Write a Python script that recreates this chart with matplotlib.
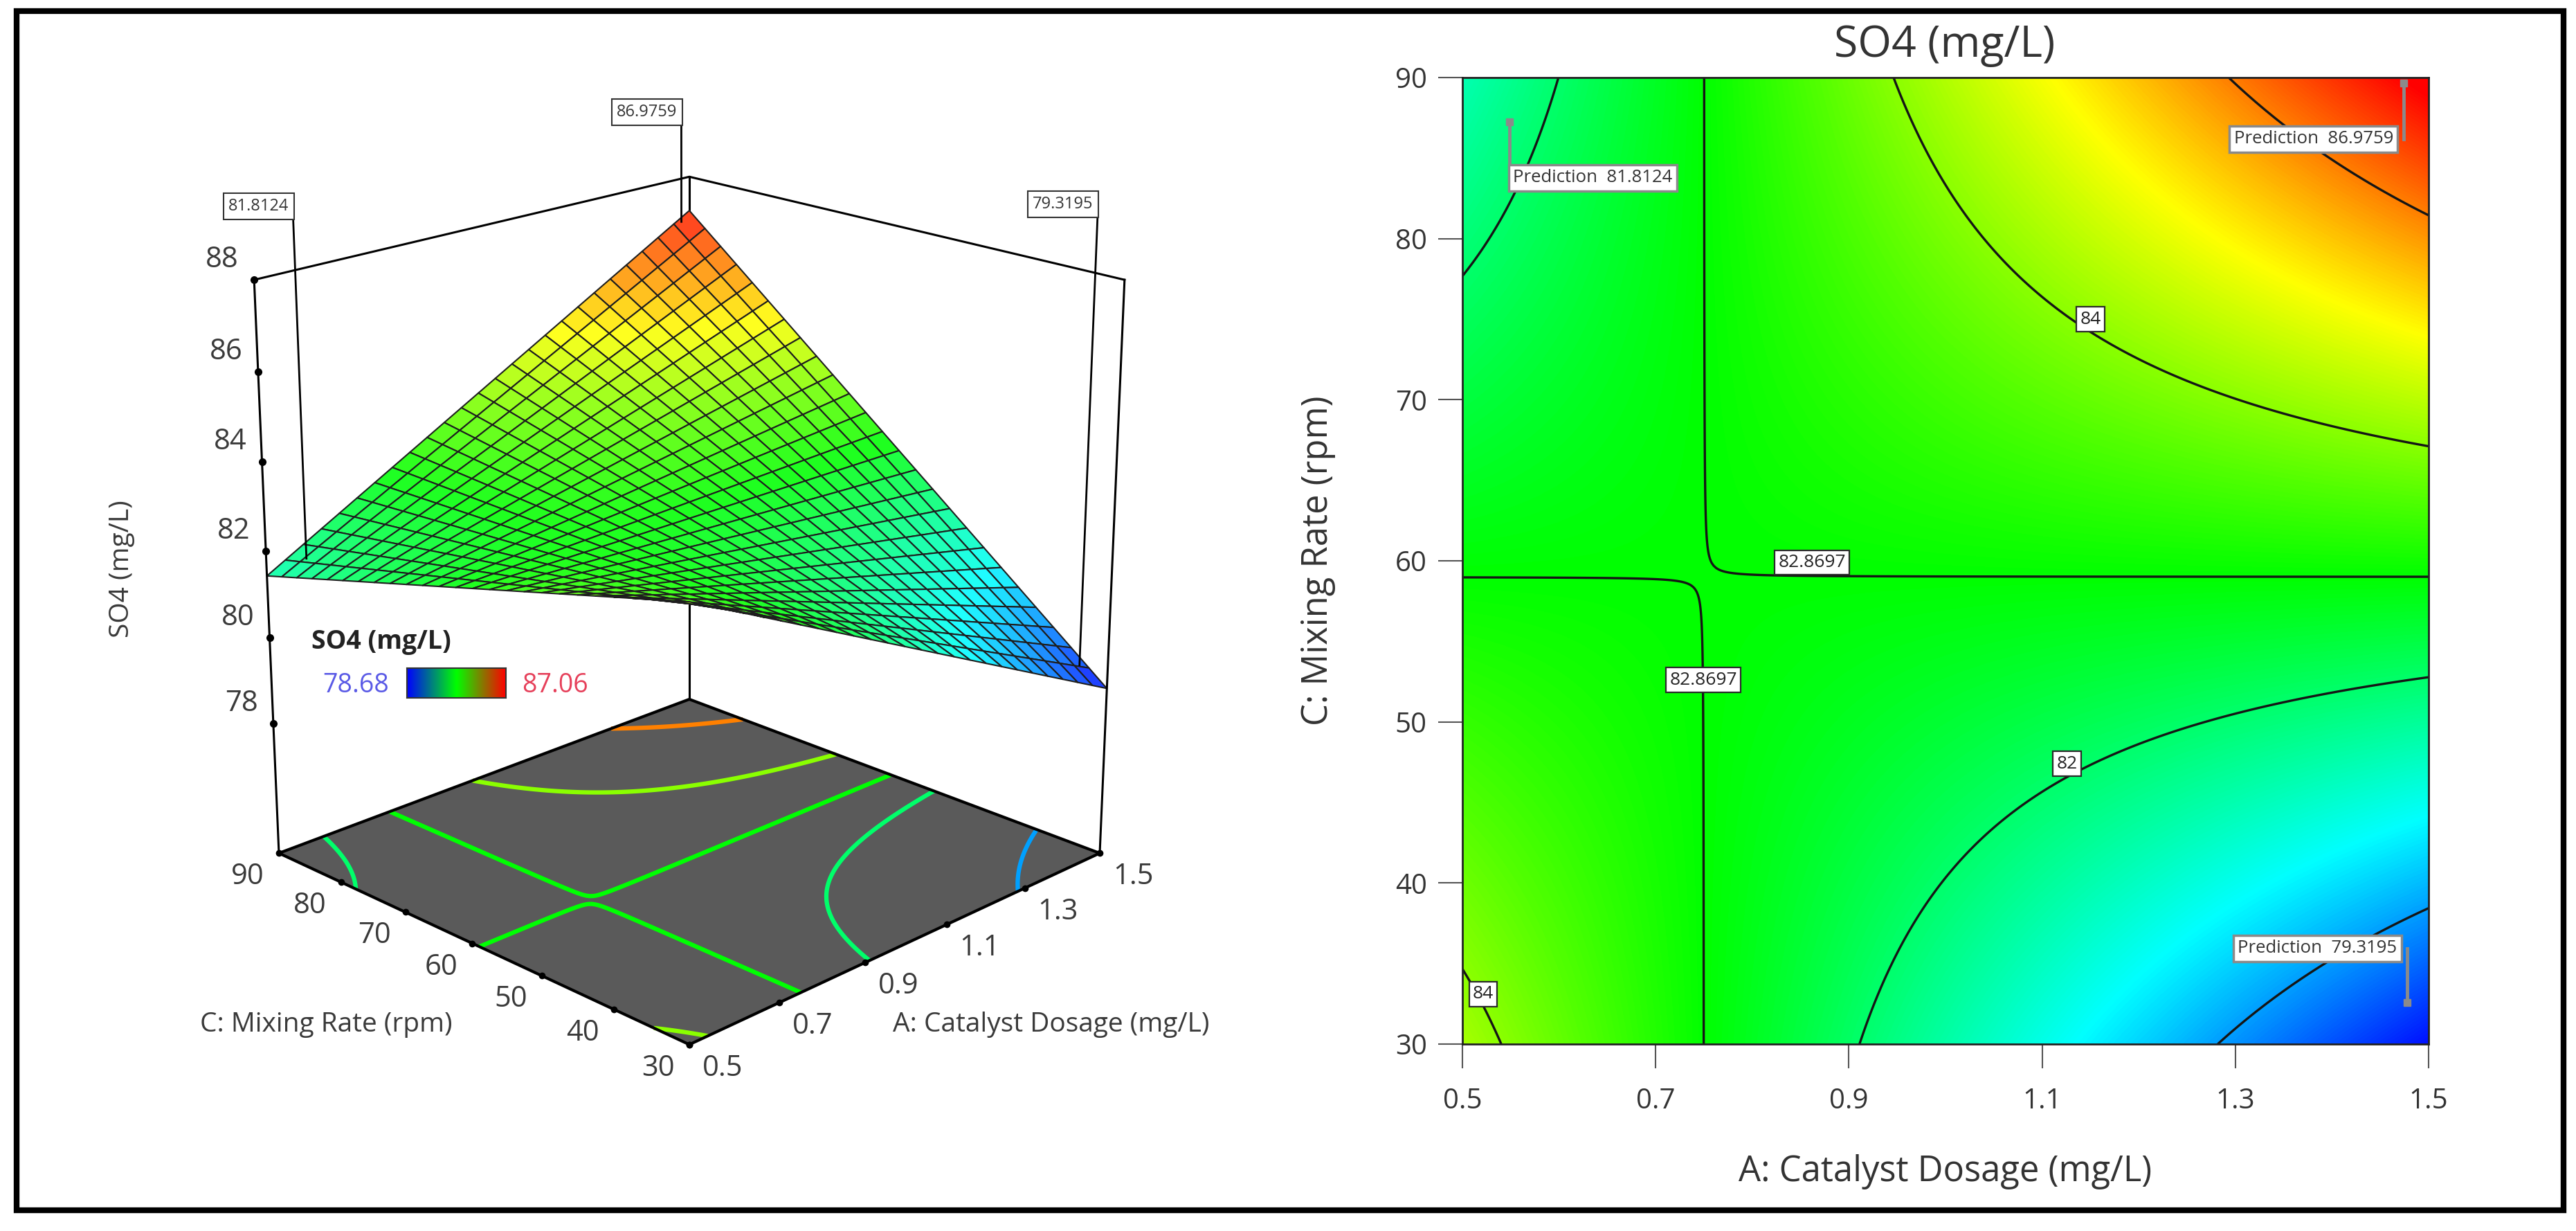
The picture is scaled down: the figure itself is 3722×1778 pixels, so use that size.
import numpy as np
import matplotlib
matplotlib.use("Agg")
import matplotlib.pyplot as plt
from matplotlib.colors import LinearSegmentedColormap, Normalize
from matplotlib.patches import Rectangle
from mpl_toolkits.mplot3d import proj3d

plt.rcParams['font.family'] = ['Open Sans', 'DejaVu Sans']

W, H = 3722, 1778

# fitted response: SO4 = s0 + k (A - A0)(C - C0)
saddle_A = 0.75
saddle_C = 59.0
saddle_value = 82.8684
interaction = 0.186

A_range = [0.5, 1.5]
C_range = [30, 90]
A_ticks = [0.5, 0.7, 0.9, 1.1, 1.3, 1.5]
C_ticks = [30, 40, 50, 60, 70, 80, 90]
z_ticks = [78, 80, 82, 84, 86, 88]
z_floor = 74.9
flag_top = 89.3

color_min, color_max = 78.68, 87.06
contour_levels = [80, 82, 82.8697, 84, 86]

# contour line labels (text, A, C)
line_label_text = ['84', '82.8697', '82.8697', '82', '84']
line_label_A = [1.150, 0.862, 0.7495, 1.126, 0.5215]
line_label_C = [75.0, 59.9, 52.6, 47.4, 33.1]

# prediction flags
pred_values = ['81.8124', '86.9759', '79.3195']
pred_A = [0.549, 1.474, 1.478]
pred_C = [87.25, 89.66, 32.6]
pred_box_A = [0.635, 1.381, 1.385]
pred_box_C = [83.77, 86.18, 35.94]


def so4(a, c):
    return saddle_value + interaction * (a - saddle_A) * (c - saddle_C)


rainbow = LinearSegmentedColormap.from_list(
    'de', ['#0000ff', '#00ffff', '#00ff00', '#ffff00', '#ff0000'])
legend_cmap = LinearSegmentedColormap.from_list('de3', ['#0000ff', '#00ff00', '#ff0000'])
norm = Normalize(color_min, color_max)

fig = plt.figure(figsize=(W / 100, H / 100), dpi=100)

# ---------------- 3D surface (left) ----------------
ax = fig.add_axes([0.0, 0.05, 0.5, 0.9], projection='3d', computed_zorder=False)
ax.patch.set_visible(False)
ax.set_proj_type('persp', focal_length=0.65)
ax.view_init(elev=20, azim=-135)
ax.set_box_aspect((1, 1, 1.02))
ax.set_xlim(*A_range)
ax.set_ylim(*C_range)
ax.set_zlim(z_floor, z_ticks[-1])
ax.set_axis_off()

ag = np.linspace(A_range[0], A_range[1], 201)
cg = np.linspace(C_range[0], C_range[1], 201)
AA, CC = np.meshgrid(ag, cg)
ZZ = so4(AA, CC)

# floor
FA, FC = np.meshgrid(A_range, C_range)
ax.plot_surface(FA, FC, np.full(FA.shape, z_floor), color='#5a5a5a', shade=False,
                edgecolor='none', zorder=1)
ax.contour(AA, CC, ZZ, levels=contour_levels, zdir='z', offset=z_floor,
           cmap=rainbow, norm=norm, linewidths=4.5, zorder=2)
fx = [A_range[0], A_range[1], A_range[1], A_range[0], A_range[0]]
fy = [C_range[0], C_range[0], C_range[1], C_range[1], C_range[0]]
ax.plot(fx, fy, [z_floor] * 5, color='black', lw=3, zorder=3)

# back vertical sits behind the surface
ax.plot([A_range[1]] * 2, [C_range[1]] * 2, [z_floor, z_ticks[-1]], color='black', lw=2.2, zorder=4)

# surface mesh
sa = np.linspace(A_range[0], A_range[1], 26)
sc = np.linspace(C_range[0], C_range[1], 26)
SA, SC = np.meshgrid(sa, sc)
SZ = so4(SA, SC)
fc = rainbow(norm(SZ))
fc[..., :3] = fc[..., :3] * 0.88 + 0.12
ax.plot_surface(SA, SC, SZ, facecolors=fc, edgecolor='#1e1e1e', linewidth=1.5,
                shade=False, rstride=1, cstride=1, zorder=5)

# box walls
ax.plot([A_range[0]] * 2, [C_range[1]] * 2, [z_floor, z_ticks[-1]], color='black', lw=2.2, zorder=6)
ax.plot([A_range[1]] * 2, [C_range[0]] * 2, [z_floor, z_ticks[-1]], color='black', lw=2.2, zorder=6)
ax.plot([A_range[0], A_range[1], A_range[1]], [C_range[1], C_range[1], C_range[0]],
        [z_ticks[-1]] * 3, color='black', lw=2.2, zorder=6)

# tick dots
ax.plot([A_range[0]] * len(z_ticks), [C_range[1]] * len(z_ticks), z_ticks, 'o',
        color='black', ms=7, zorder=6)
ax.plot([A_range[0]] * len(C_ticks), C_ticks, [z_floor] * len(C_ticks), 'o',
        color='black', ms=6, zorder=6)
ax.plot(A_ticks, [C_range[0]] * len(A_ticks), [z_floor] * len(A_ticks), 'o',
        color='black', ms=6, zorder=6)

# flags
for a, c in zip(pred_A, pred_C):
    ax.plot([a, a], [c, c], [so4(a, c), flag_top], color='black', lw=2, zorder=7)


def disp(a, c, z):
    a = np.atleast_1d(np.asarray(a, float))
    c = np.atleast_1d(np.asarray(c, float))
    z = np.atleast_1d(np.asarray(z, float))
    n = max(len(a), len(c), len(z))
    a, c, z = [np.resize(v, n) for v in (a, c, z)]
    xs, ys, _ = proj3d.proj_transform(a, c, z, ax.get_proj())
    return ax.transData.transform(np.column_stack([xs, ys]))


# fit the 3D box onto the target spot of the panel
fig.canvas.draw()
pos = ax.get_position()
x0, y0, L = pos.x0 * W, pos.y0 * H, pos.width * W
p_left = disp(A_range[0], C_range[1], z_floor)[0]
p_right = disp(A_range[1], C_range[0], z_floor)[0]
p_front = disp(A_range[0], C_range[0], z_floor)[0]
p_back = disp(A_range[1], C_range[1], z_ticks[-1])[0]
u_left = (p_left - [x0, y0]) / L
u_right = (p_right - [x0, y0]) / L
u_front = (p_front - [x0, y0]) / L
u_back = (p_back - [x0, y0]) / L
Lnew = (1589 - 403) / (u_right[0] - u_left[0])
x0new = 403 - u_left[0] * Lnew
y0new = 0.5 * ((H - 1506) - u_front[1] * Lnew + (H - 258) - u_back[1] * Lnew)
ax.set_position([x0new / W, y0new / H, Lnew / W, Lnew / H])
fig.canvas.draw()

tick_color = '#3a3a3a'
for z, p in zip(z_ticks, disp(A_range[0], C_range[1], z_ticks)):
    fig.text((p[0] - 46) / W, (p[1] + 29) / H, f'{z:g}', ha='center', va='center',
             fontsize=30, color=tick_color)
for c, p in zip(C_ticks, disp(A_range[0], C_ticks, z_floor)):
    fig.text((p[0] - 45) / W, (p[1] - 34) / H, f'{c:g}', ha='center', va='center',
             fontsize=30, color=tick_color)
for a, p in zip(A_ticks, disp(A_ticks, C_range[0], z_floor)):
    fig.text((p[0] + 48) / W, (p[1] - 34) / H, f'{a:g}', ha='center', va='center',
             fontsize=30, color=tick_color)
for a, c, v in zip(pred_A, pred_C, pred_values):
    p = disp(a, c, flag_top)[0]
    fig.text((p[0] - 6) / W, (p[1] + 6) / H, v, ha='right', va='bottom', fontsize=17,
             color='#333333',
             bbox=dict(boxstyle='square,pad=0.3', fc='white', ec='#333333', lw=1.5))

fig.text(176 / W, 1 - 822 / H, 'SO4 (mg/L)', rotation=90, ha='center', va='center',
         fontsize=28, color=tick_color)
fig.text(471 / W, 1 - 1480 / H, 'C: Mixing Rate (rpm)', ha='center', va='center',
         fontsize=28, color=tick_color)
fig.text(1519 / W, 1 - 1480 / H, 'A: Catalyst Dosage (mg/L)', ha='center', va='center',
         fontsize=28, color=tick_color)

# colour legend
fig.text(450 / W, 1 - 927 / H, 'SO4 (mg/L)', ha='left', va='center', fontsize=27,
         fontweight='bold', color='#222222')
fig.text(514 / W, 1 - 990 / H, f'{color_min:.2f}', ha='center', va='center', fontsize=27,
         color='#5a5ae6')
fig.text(802 / W, 1 - 990 / H, f'{color_max:.2f}', ha='center', va='center', fontsize=27,
         color='#e6405a')
cax = fig.add_axes([588 / W, 1 - 1008 / H, 143 / W, 43 / H])
cax.imshow(np.linspace(color_min, color_max, 256)[None, :], aspect='auto', cmap=legend_cmap)
cax.set_xticks([])
cax.set_yticks([])
for s in cax.spines.values():
    s.set_linewidth(1.5)
    s.set_color('#333333')

# ---------------- contour plot (right) ----------------
ax2 = fig.add_axes([2113 / W, 1 - 1508 / H, 1396 / W, 1396 / H])
ag2 = np.linspace(A_range[0], A_range[1], 401)
cg2 = np.linspace(C_range[0], C_range[1], 401)
AA2, CC2 = np.meshgrid(ag2, cg2)
ZZ2 = so4(AA2, CC2)
ax2.imshow(ZZ2, extent=[A_range[0], A_range[1], C_range[0], C_range[1]], origin='lower',
           aspect='auto', cmap=rainbow, norm=norm, interpolation='bilinear', zorder=0)
ax2.contour(AA2, CC2, ZZ2, levels=contour_levels, colors='#151515', linewidths=2.4, zorder=2)

for t, a, c in zip(line_label_text, line_label_A, line_label_C):
    ax2.text(a, c, t, ha='center', va='center', fontsize=19, color='#222222', zorder=5,
             bbox=dict(boxstyle='square,pad=0.2', fc='white', ec='#2a2a2a', lw=1.6))

for a, c, ba, bc, v in zip(pred_A, pred_C, pred_box_A, pred_box_C, pred_values):
    ax2.plot([a, a], [c, bc], color='#8a8a8a', lw=3.5, zorder=4)
    ax2.plot(a, c, marker='s', ms=7, color='#8a8a8a', zorder=4)
    ax2.text(ba, bc, 'Prediction  ' + v, ha='center', va='center', fontsize=18.5,
             color='#333333', zorder=6,
             bbox=dict(boxstyle='square,pad=0.25', fc='white', ec='#8a8a8a', lw=2.5))

ax2.set_xlim(*A_range)
ax2.set_ylim(*C_range)
ax2.set_xticks(A_ticks)
ax2.set_xticklabels([f'{a:g}' for a in A_ticks])
ax2.set_yticks(C_ticks)
ax2.set_yticklabels([f'{c:g}' for c in C_ticks])
ax2.tick_params(axis='both', direction='out', length=25, width=1.5, color='#555555',
                labelsize=29, labelcolor='#333333')
ax2.tick_params(axis='x', pad=20)
ax2.tick_params(axis='y', pad=12)
for s in ax2.spines.values():
    s.set_linewidth(2)
    s.set_color('#222222')

ax2.set_xlabel('A: Catalyst Dosage (mg/L)', fontsize=36.5, color='#333333')
ax2.xaxis.label.set_va('center')
ax2.xaxis.set_label_coords(0.5, -0.1325)
ax2.set_ylabel('C: Mixing Rate (rpm)', fontsize=36.5, color='#333333')
ax2.yaxis.label.set_va('center')
ax2.yaxis.set_label_coords(-0.1497, 0.5)

fig.text(2810 / W, 1 - 66 / H, 'SO4 (mg/L)', ha='center', va='center', fontsize=45,
         color='#333333')

# outer frame
fig.add_artist(Rectangle((24 / W, 1 - 1748 / H), (3704 - 24) / W, (1748 - 16) / H,
                         transform=fig.transFigure, fill=False, lw=6, ec='black'))

fig.savefig('out.png', dpi=100)
